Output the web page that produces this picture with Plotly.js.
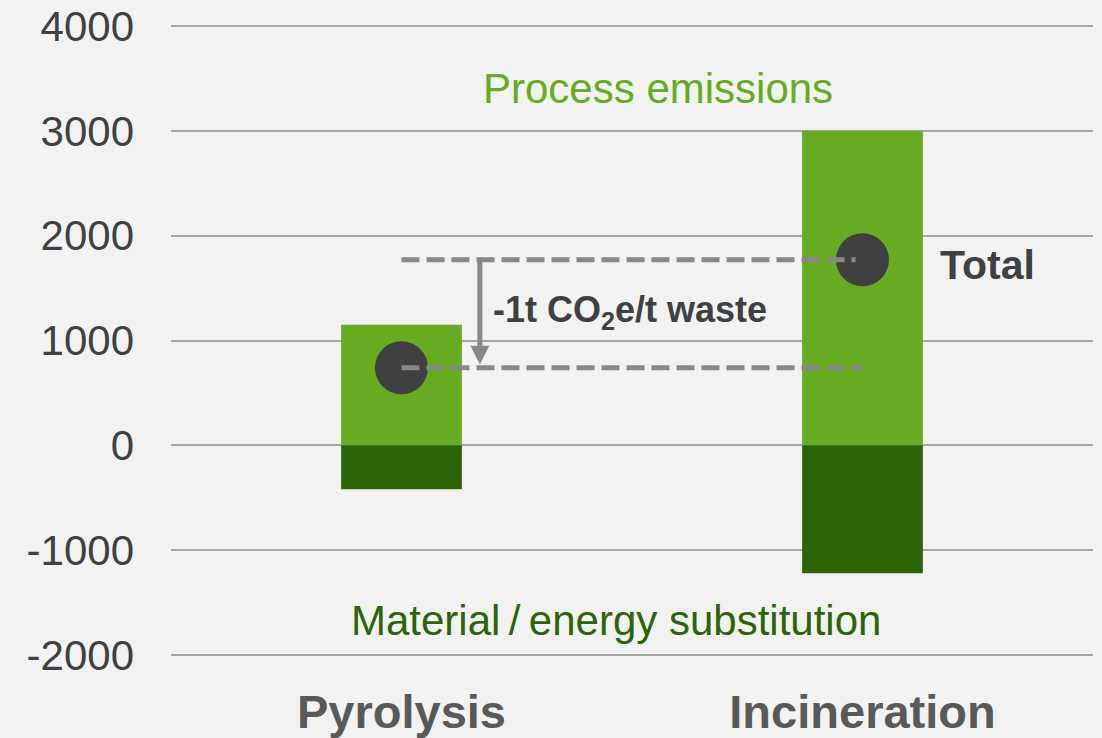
<!DOCTYPE html>
<html>
<head>
<meta charset="utf-8">
<script src="https://cdn.plot.ly/plotly-3.0.1.min.js"></script>
<style>
  html, body { margin: 0; padding: 0; background: #F2F2F2; }
  #chart { width: 1102px; height: 738px; }
</style>
</head>
<body>
<div id="chart"></div>
<script>
// Data (t CO2e)
const categories = ['Pyrolysis', 'Incineration'];
const processEmissions = [1150, 3000];
const substitution = [-420, -1220];
const totals = [740, 1770];
const yTickVals = [-2000, -1000, 0, 1000, 2000, 3000, 4000];

const FONT = 'Liberation Sans, Arial, Helvetica, sans-serif';
const LIGHT_GREEN = '#66AB21';
const DARK_GREEN = '#2D6407';
const DASH_GREY = '#888888';

const traces = [
  {
    type: 'bar', x: categories, y: processEmissions, name: 'Process emissions',
    width: 0.262, marker: { color: LIGHT_GREEN }, hoverinfo: 'skip'
  },
  {
    type: 'bar', x: categories, y: substitution, name: 'Material / energy substitution',
    width: 0.262, marker: { color: DARK_GREEN }, hoverinfo: 'skip'
  },
  {
    type: 'scatter', mode: 'markers', x: categories, y: totals, name: 'Total',
    marker: { size: 53, color: '#404040', line: { width: 0 } }, hoverinfo: 'skip'
  }
];

const layout = {
  width: 1102, height: 738,
  margin: { l: 171, r: 9, t: 25, b: 82 },
  paper_bgcolor: '#F2F2F2', plot_bgcolor: '#F2F2F2',
  barmode: 'relative',
  showlegend: false,
  font: { family: FONT },
  xaxis: {
    type: 'category', range: [-0.5, 1.5],
    showgrid: false, zeroline: false, showline: false, ticks: '',
    tickfont: { family: FONT, size: 47, color: '#595959', weight: 'bold' },
    ticklabelstandoff: 24
  },
  yaxis: {
    range: [-2010, 4010], tickvals: yTickVals, ticktext: yTickVals.map(String),
    showgrid: true, gridcolor: '#A6A6A6', gridwidth: 2,
    zeroline: false, showline: false, ticks: '',
    tickfont: { family: FONT, size: 42, color: '#404040' },
    ticklabelstandoff: 36
  },
  shapes: [
    {
      type: 'line', xref: 'x', yref: 'y', layer: 'above',
      x0: 0, x1: 0.985, y0: totals[1], y1: totals[1],
      line: { color: DASH_GREY, width: 5, dash: '18px,7px' }
    },
    {
      type: 'line', xref: 'x', yref: 'y', layer: 'above',
      x0: 0, x1: 1.0, y0: totals[0], y1: totals[0],
      line: { color: DASH_GREY, width: 5, dash: '18px,7px' }
    }
  ],
  annotations: [
    {
      x: 0.17, y: totals[0] + 30, xref: 'x', yref: 'y',
      ax: 0.17, ay: totals[1], axref: 'x', ayref: 'y',
      text: '', showarrow: true, arrowhead: 2, arrowsize: 0.75,
      arrowwidth: 5, arrowcolor: DASH_GREY, standoff: 0
    },
    {
      x: 0.194, y: 1275, xref: 'x', yref: 'y', xanchor: 'left', yanchor: 'middle',
      text: '<b>-1t CO<sub>2</sub>e/t waste</b>', showarrow: false,
      font: { family: FONT, size: 36, color: '#404040' }
    },
    {
      x: 1.164, y: 1722, xref: 'x', yref: 'y', xanchor: 'left', yanchor: 'middle',
      text: '<b>Total</b>', showarrow: false,
      font: { family: FONT, size: 41, color: '#404040' }
    },
    {
      x: 0.557, y: 3409, xref: 'x', yref: 'y', xanchor: 'center', yanchor: 'middle',
      text: 'Process emissions', showarrow: false,
      font: { family: FONT, size: 42, color: LIGHT_GREEN }
    },
    {
      x: 0.466, y: -1676, xref: 'x', yref: 'y', xanchor: 'center', yanchor: 'middle',
      text: 'Material\u2009/\u2009energy substitution', showarrow: false,
      font: { family: FONT, size: 42, color: DARK_GREEN }
    }
  ]
};

Plotly.newPlot('chart', traces, layout, { displayModeBar: false, staticPlot: true });
</script>
</body>
</html>
